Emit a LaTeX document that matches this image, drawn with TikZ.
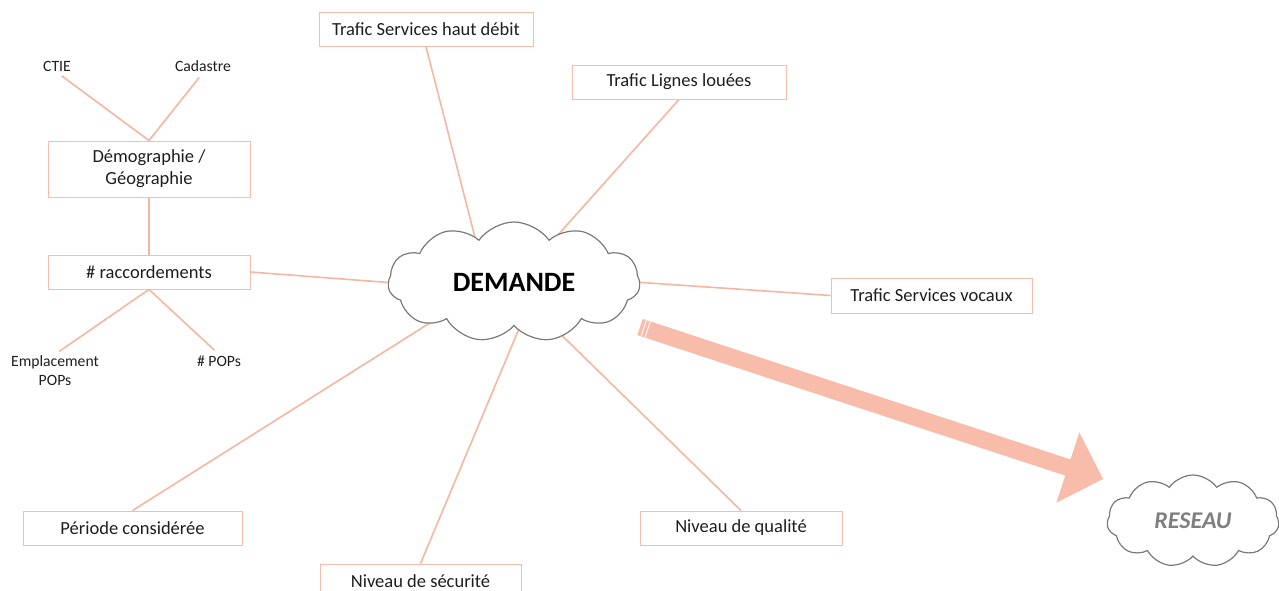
\documentclass[tikz,border=0pt]{standalone}
\usepackage{fontspec}
\setmainfont{Carlito}
\usetikzlibrary{shapes.symbols}
\definecolor{ln}{HTML}{F6B6A2}
\definecolor{bx}{HTML}{F7BCAA}
\definecolor{arr}{HTML}{F8BCAA}
\definecolor{txt}{HTML}{1E1E1E}
\definecolor{cl}{HTML}{7A7A7A}
\definecolor{rs}{HTML}{7F7F7F}
\begin{document}
\begin{tikzpicture}[x=1pt,y=-1pt,
  box/.style={draw=bx, line width=0.9pt, fill=white, text=txt, font=\fontsize{18.5}{22}\selectfont, inner sep=0pt, align=center},
  lbl/.style={text=txt, font=\fontsize{15.7}{19}\selectfont, inner sep=1pt, align=center},
  conn/.style={draw=ln, line width=1.6pt},
  cloudbox/.style={cloud, cloud puffs=11, cloud puff arc=110, cloud ignores aspect, draw=cl, line width=1.2pt, fill=white, inner sep=0pt}]
\useasboundingbox (0,0) rectangle (1279,591);
% boxes
\node[box, minimum width=214pt, minimum height=34pt] (hd) at (426,29) {Trafic Services haut débit};
\node[box, minimum width=214pt, minimum height=34pt] (ll) at (679,82) {Trafic Lignes louées};
\node[box, minimum width=201pt, minimum height=35pt] (voc) at (931.5,295.5) {Trafic Services vocaux};
\node[box, minimum width=202pt, minimum height=34pt] (qual) at (741,528) {Niveau de qualité};
\node[box, minimum width=201pt, minimum height=34pt] (sec) at (420.5,581) {Niveau de sécurité};
\node[box, minimum width=219pt, minimum height=34pt] (per) at (132.5,528) {Période considérée};
\node[box, minimum width=202pt, minimum height=34pt] (racc) at (149,272) {\# raccordements};
\node[box, minimum width=202pt, minimum height=56pt] (demo) at (149,169) {Démographie /\\Géographie};
% small labels
\node[lbl] (ctie) at (57,66) {CTIE};
\node[lbl] (cad) at (203,66) {Cadastre};
\node[lbl] (emp) at (55,370.5) {Emplacement\\POPs};
\node[lbl] (pops) at (219,361) {\# POPs};
% cloud-side ends of connectors
\coordinate (c1) at (479,253);
\coordinate (c2) at (549,245);
\coordinate (c3) at (620,281);
\coordinate (c4) at (539,313);
\coordinate (c5) at (521,324);
\coordinate (c6) at (444,314);
\coordinate (c7) at (408,284);
% connectors
\draw[conn] (hd.south) -- (c1);
\draw[conn] (ll.south) -- (c2);
\draw[conn] (voc.west) -- (c3);
\draw[conn] (qual.north) -- (c4);
\draw[conn] (sec.north) -- (c5);
\draw[conn] (per.north) -- (c6);
\draw[conn] (racc.east) -- (c7);
\draw[conn] (demo.south) -- (racc.north);
\draw[conn, shorten <=6pt] (ctie.south) -- (demo.north);
\draw[conn, shorten <=6pt] (cad.south) -- (demo.north);
\draw[conn, shorten >=5pt] (racc.south) -- (emp.north);
\draw[conn, shorten >=6pt] (racc.south) -- (pops.north);
% clouds
\node[cloudbox, minimum width=252pt, minimum height=120pt, font=\fontsize{28}{30}\selectfont\bfseries, text=black] (dem) at (514,282) {DEMANDE};
\node[cloudbox, minimum width=172pt, minimum height=92pt, font=\fontsize{24}{26}\selectfont\bfseries\itshape, text=rs] (res) at (1193,521) {RESEAU};
% big striped arrow
\fill[arr] (642.7,318.9) -- (1070.5,459.4) -- (1079.3,432.3) -- (1103,479) -- (1056.3,502.7) -- (1065.2,475.6) -- (637.3,335.1) -- cycle;
\draw[white, line width=0.9pt] (646.5,320.1) -- (641.1,336.3);
\draw[white, line width=0.9pt] (650.3,321.4) -- (644.9,337.6);
\end{tikzpicture}
\end{document}
